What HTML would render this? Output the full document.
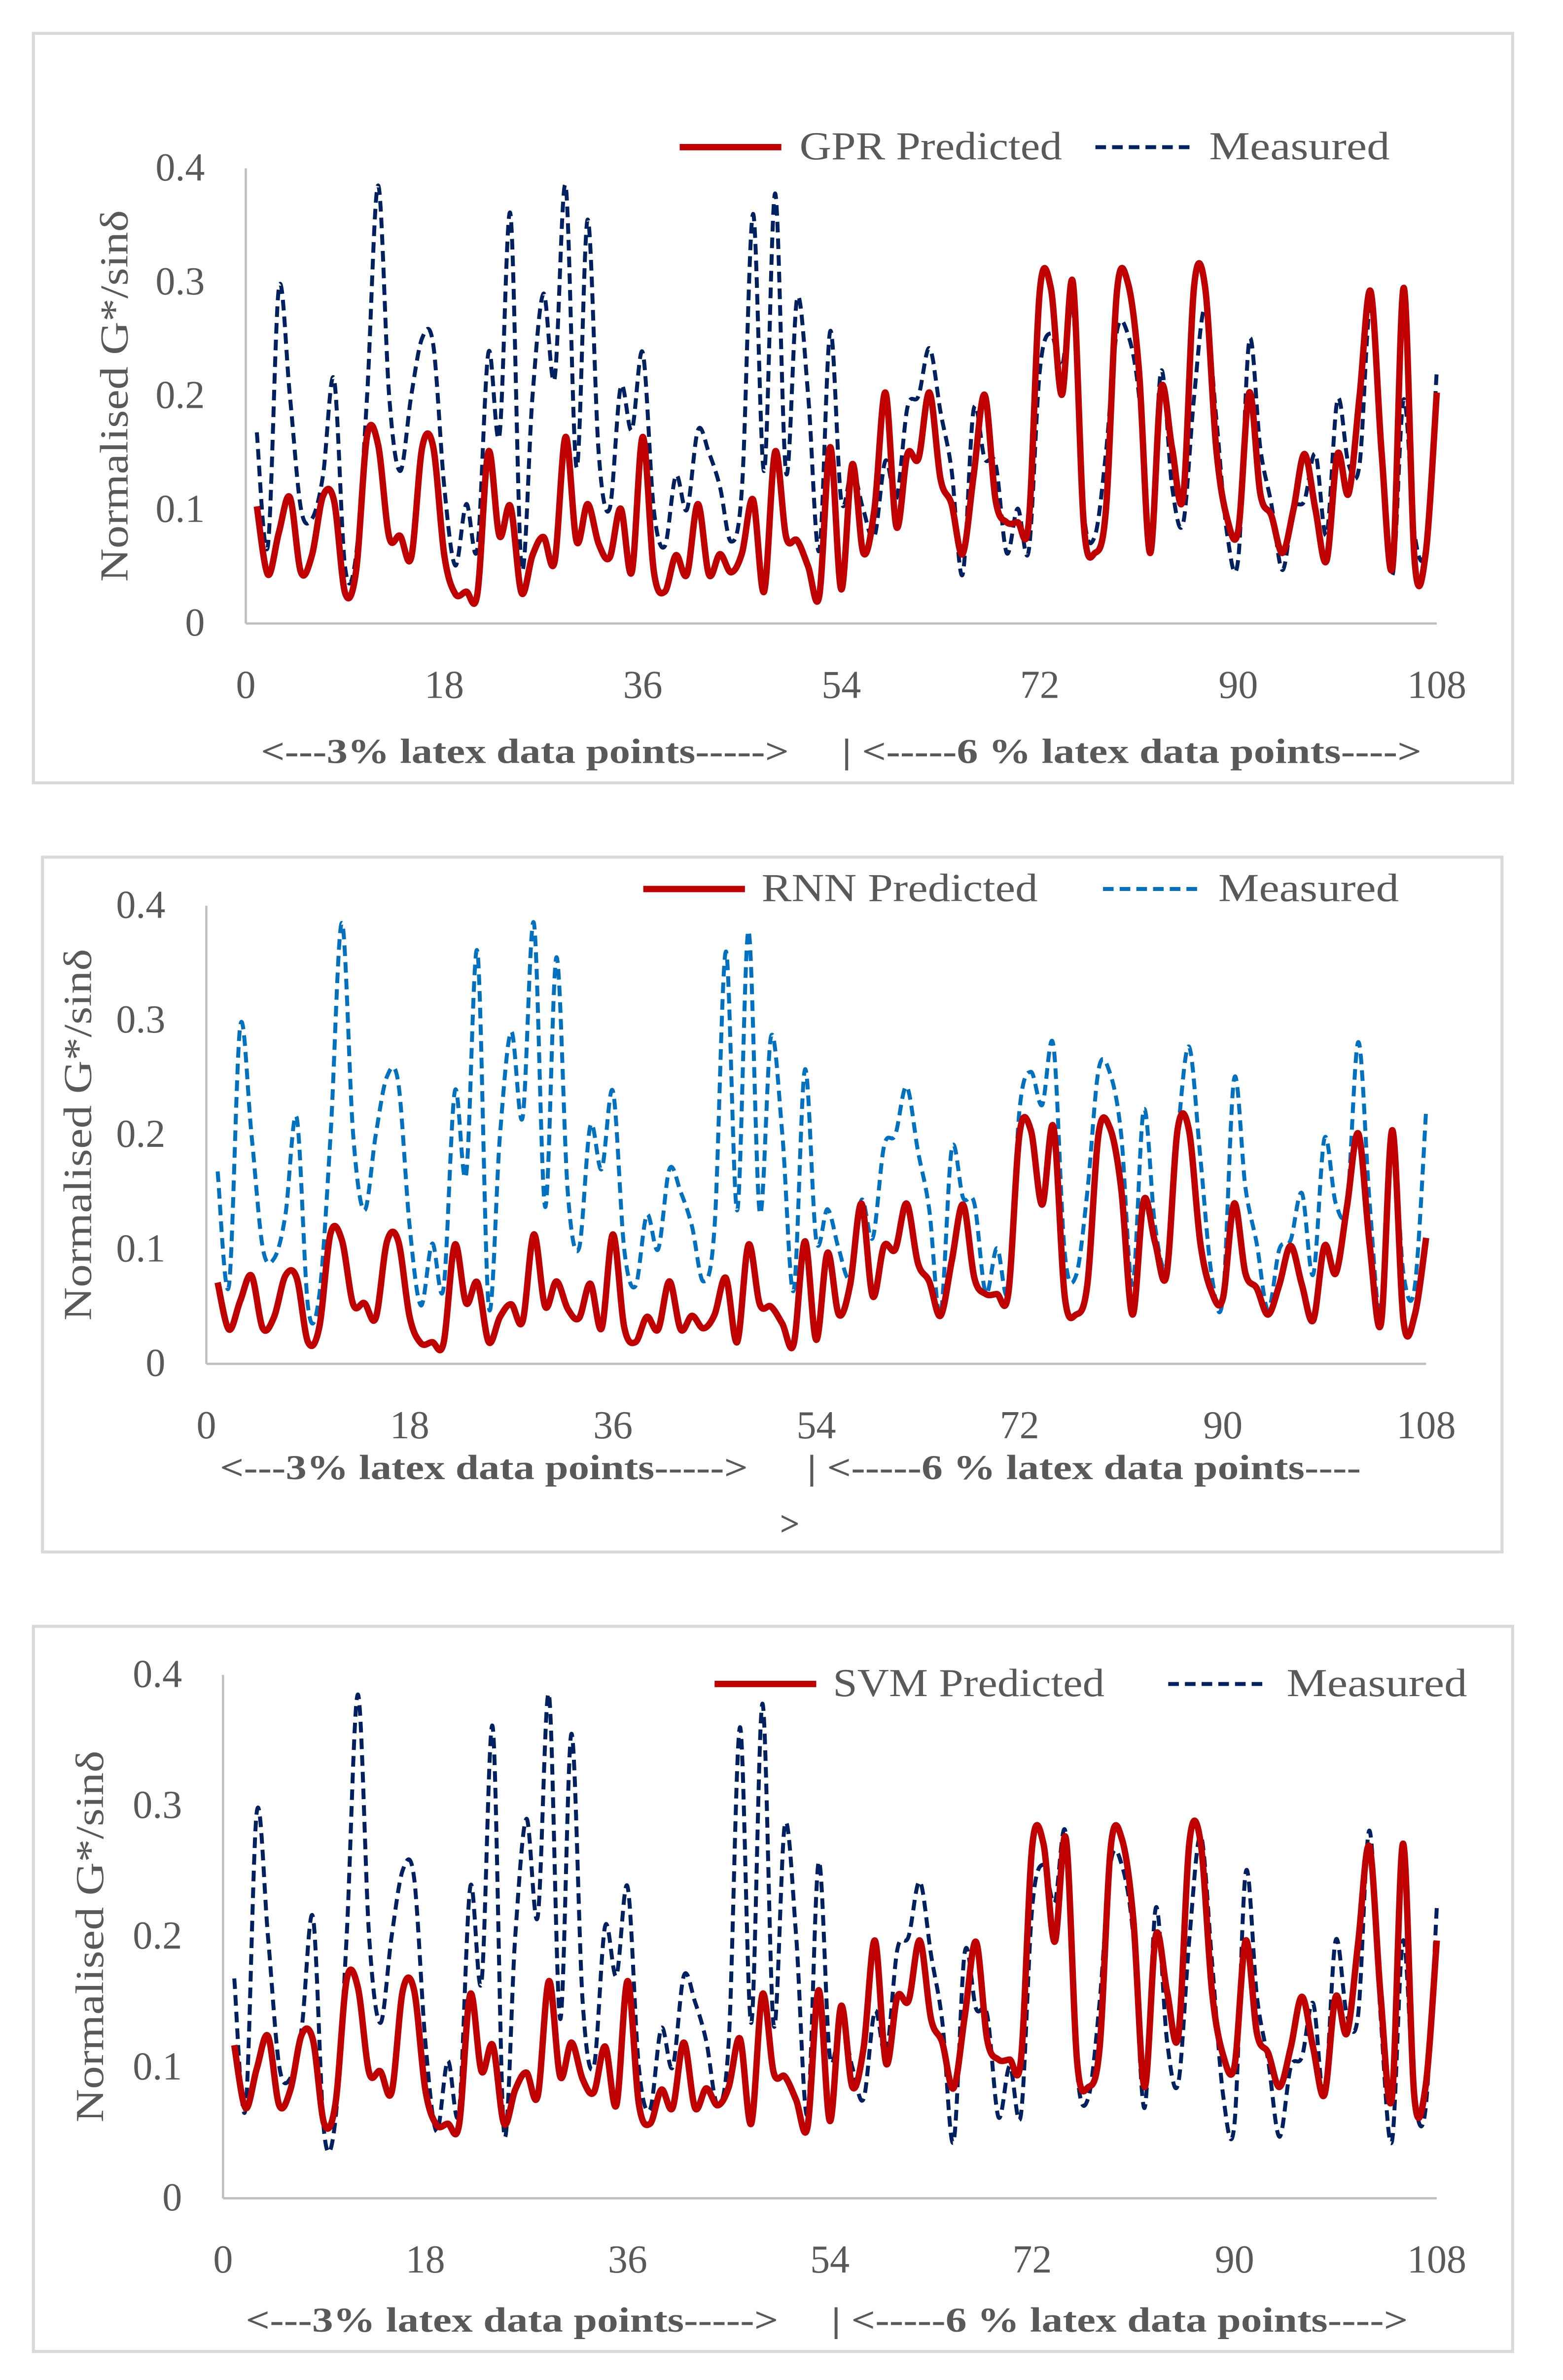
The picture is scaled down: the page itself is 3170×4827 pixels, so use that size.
<!DOCTYPE html>
<html><head><meta charset="utf-8"><style>
html,body{margin:0;padding:0;background:#fff}
svg{display:block}
text{font-family:"Liberation Serif",serif}
</style></head><body>
<svg id="root" width="3170" height="4827" viewBox="0 0 1030.2 1568.8" preserveAspectRatio="none" xmlns="http://www.w3.org/2000/svg">
</svg>
<script>
const xTicks = [0,18,36,54,72,90,108];
const yTicks = [0,0.1,0.2,0.3,0.4];
const yTickLabels = ["0","0.1","0.2","0.3","0.4"];
const measured = [.168,.068,.295,.2,.101,.092,.13,.215,.05,.06,.2,.385,.2,.134,.2,.251,.245,.12,.051,.105,.066,.238,.165,.36,.05,.2,.29,.215,.385,.137,.355,.15,.101,.208,.17,.238,.1,.068,.13,.1,.17,.15,.12,.072,.12,.36,.134,.378,.132,.286,.2,.064,.257,.108,.135,.1,.076,.143,.11,.19,.2,.242,.186,.135,.043,.188,.145,.14,.062,.101,.064,.222,.255,.226,.278,.097,.077,.15,.257,.254,.2,.069,.222,.12,.088,.2,.277,.181,.078,.057,.249,.154,.105,.047,.1,.108,.149,.078,.197,.14,.14,.281,.14,.043,.197,.078,.068,.222];
const gpr = [.103,.043,.08,.111,.045,.06,.112,.108,.027,.046,.165,.157,.076,.077,.058,.155,.155,.06,.026,.028,.026,.151,.077,.103,.027,.06,.076,.054,.164,.072,.105,.07,.058,.101,.045,.164,.046,.028,.06,.043,.105,.043,.061,.045,.062,.109,.028,.151,.076,.073,.05,.024,.155,.03,.14,.062,.1,.203,.085,.149,.145,.203,.127,.105,.061,.13,.201,.108,.089,.089,.089,.292,.295,.201,.3,.086,.062,.1,.292,.299,.222,.062,.207,.154,.111,.297,.295,.154,.092,.082,.203,.114,.095,.062,.1,.149,.1,.055,.149,.114,.2,.292,.15,.051,.295,.054,.062,.203];
const rnn = [.071,.03,.055,.077,.031,.041,.077,.075,.019,.032,.114,.108,.052,.053,.04,.107,.107,.041,.018,.019,.018,.104,.053,.071,.019,.041,.052,.037,.113,.05,.072,.048,.04,.07,.031,.113,.032,.019,.041,.03,.072,.03,.042,.031,.043,.075,.019,.104,.052,.05,.035,.017,.107,.021,.097,.043,.069,.14,.059,.103,.1,.14,.088,.072,.042,.09,.139,.075,.061,.061,.061,.201,.204,.139,.207,.059,.043,.069,.201,.206,.153,.043,.143,.106,.077,.205,.204,.106,.063,.057,.14,.079,.066,.043,.069,.103,.069,.038,.103,.079,.138,.201,.104,.035,.204,.037,.043,.11];
const svm = [.117,.069,.099,.124,.071,.083,.125,.121,.057,.072,.167,.161,.096,.097,.081,.159,.159,.083,.056,.057,.056,.156,.097,.117,.057,.083,.096,.078,.166,.093,.119,.091,.081,.116,.071,.166,.072,.057,.083,.069,.119,.069,.084,.071,.085,.122,.057,.156,.096,.093,.075,.054,.159,.059,.147,.085,.115,.197,.103,.154,.151,.197,.137,.119,.084,.139,.196,.121,.106,.106,.106,.269,.271,.196,.275,.104,.085,.115,.269,.274,.213,.085,.201,.158,.124,.273,.271,.158,.109,.101,.197,.126,.111,.085,.115,.154,.115,.079,.154,.126,.195,.269,.155,.076,.271,.078,.085,.197];

const NS="http://www.w3.org/2000/svg";
const root=document.getElementById('root');
function mk(tag,attrs,parent){const e=document.createElementNS(NS,tag);for(const k in attrs)e.setAttribute(k,attrs[k]);(parent||root).appendChild(e);return e;}
function smooth(pts){let d="M"+pts[0][0]+","+pts[0][1];for(let i=0;i<pts.length-1;i++){const p0=pts[i-1]||pts[i],p1=pts[i],p2=pts[i+1],p3=pts[i+2]||p2;const t=6;d+=" C"+(p1[0]+(p2[0]-p0[0])/t)+","+(p1[1]+(p2[1]-p0[1])/t)+" "+(p2[0]-(p3[0]-p1[0])/t)+","+(p2[1]-(p3[1]-p1[1])/t)+" "+p2[0]+","+p2[1];}return d;}

function panel(cfg){
  const g=mk('g',{});
  
  
  const b=mk('rect',{x:cfg.bx,y:cfg.by,width:cfg.bw,height:cfg.bh,fill:'none',stroke:'#d9d9d9','stroke-width':2},g);
  
  
  const xs=v=>cfg.x0+(v/108)*(cfg.x1-cfg.x0);
  const ys=v=>cfg.y0-(v/0.4)*(cfg.y0-cfg.y1);
  const ya=mk('line',{x1:cfg.x0,y1:cfg.y1,x2:cfg.x0,y2:cfg.y0,stroke:'#bfbfbf','stroke-width':1.5},g);
  
  
  const xa=mk('line',{x1:cfg.x0,y1:cfg.y0,x2:cfg.x1,y2:cfg.y0,stroke:'#bfbfbf','stroke-width':1.5},g);
  
  
  yTicks.forEach((t,i)=>{const e=mk('text',{x:cfg.x0-27,y:ys(t)+8,'text-anchor':'end','font-size':26,fill:'#595959'},g);e.textContent=yTickLabels[i];
    
    });
  xTicks.forEach(t=>{const e=mk('text',{x:xs(t),y:cfg.y0+49,'text-anchor':'middle','font-size':26,fill:'#595959'},g);e.textContent=t;
    
    });
  const yt=mk('text',{x:0,y:0,transform:`translate(${cfg.tx},${(cfg.y0+cfg.y1)/2}) rotate(-90)`,'text-anchor':'middle','font-size':26,fill:'#595959','xml:space':'preserve',textLength:245,lengthAdjust:'spacingAndGlyphs'},g);
  yt.textContent='Normalised  G*/sin\u03b4';
  
  
  const mp=mk('path',{d:smooth(cfg.meas.map((v,i)=>[xs(i+1),ys(v)])),fill:'none',stroke:cfg.mc,'stroke-width':2.6,'stroke-dasharray':'7,4'},g);
  
  
  const pp=mk('path',{d:smooth(cfg.pred.map((v,i)=>[xs(i+1),ys(v)])),fill:'none',stroke:'#c00000','stroke-width':4.2,'stroke-linejoin':'round'},g);
  
  
  const l1=mk('line',{x1:cfg.lx1,y1:cfg.ly,x2:cfg.lx1+67,y2:cfg.ly,stroke:'#c00000','stroke-width':4.2},g);
  
  
  const t1=mk('text',{x:cfg.lt1,y:cfg.ly+8,'font-size':26,fill:'#595959',textLength:cfg.lw1,lengthAdjust:'spacingAndGlyphs'},g);t1.textContent=cfg.label;
  
  
  const l2=mk('line',{x1:cfg.lx2,y1:cfg.ly,x2:cfg.lx2+64,y2:cfg.ly,stroke:cfg.mc,'stroke-width':2.6,'stroke-dasharray':'7,4'},g);
  
  
  const t2=mk('text',{x:cfg.lt2,y:cfg.ly+8,'font-size':26,fill:'#595959',textLength:119,lengthAdjust:'spacingAndGlyphs'},g);t2.textContent='Measured';
  
  
  cfg.notes.forEach(n=>{const a={x:n[0],y:n[1],'font-size':23,'font-weight':'bold',fill:'#595959','xml:space':'preserve'};if(n[3]){a.textLength=n[3];a.lengthAdjust='spacingAndGlyphs';}const e=mk('text',a,g);e.textContent=n[2];
    
    });
}
panel({name:'gpr-chart',bx:22,by:22,bw:975,bh:494,x0:162,x1:947,y0:411,y1:111,tx:84,meas:measured,pred:gpr,mc:'#002060',label:'GPR Predicted',lx1:448,lt1:527,lw1:173,lx2:722,lt2:797,ly:97,
  notes:[[172,503,'<---3% latex data points----->',348],[555,503,'| <-----6 % latex data points---->',382]]});
panel({name:'rnn-chart',bx:28,by:565,bw:962,bh:458,x0:136,x1:940,y0:899,y1:597,tx:60,meas:measured,pred:rnn,mc:'#0070c0',label:'RNN Predicted',lx1:424,lt1:502,lw1:182,lx2:727,lt2:803,ly:586,
  notes:[[145,975,'<---3% latex data points----->',348],[532,975,'| <-----6 % latex data points----',365],[514,1012,'>']]});
panel({name:'svm-chart',bx:22,by:1072,bw:975,bh:478,x0:147,x1:947,y0:1449,y1:1104,tx:68,meas:measured,pred:svm,mc:'#002060',label:'SVM Predicted',lx1:471,lt1:549,lw1:179,lx2:770,lt2:848,ly:1110,
  notes:[[162,1537,'<---3% latex data points----->',351],[548,1537,'| <-----6 % latex data points---->',380]]});
</script>
</body></html>
